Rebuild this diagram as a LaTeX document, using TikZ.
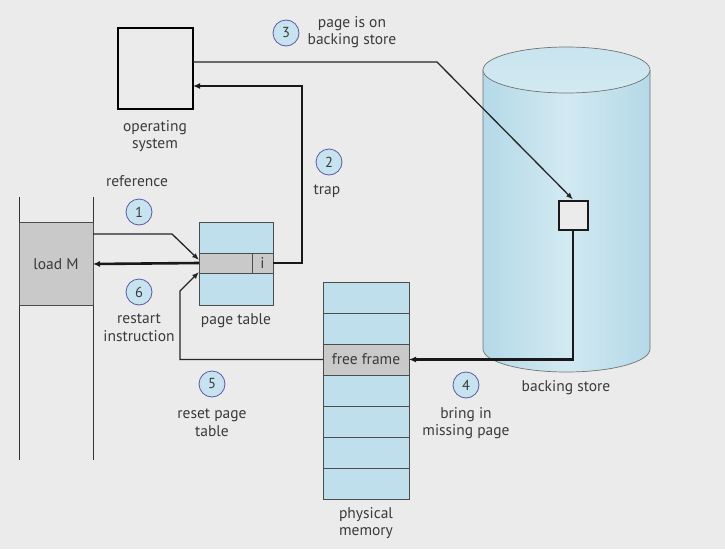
\documentclass[tikz,border=0pt]{standalone}
\usepackage{fontspec}
\setmainfont{PT Sans}
\usetikzlibrary{arrows.meta,shapes.geometric}
\definecolor{bg}{HTML}{EBEBEB}
\definecolor{cellblue}{HTML}{BEDFEB}
\definecolor{cellgray}{HTML}{C9C9C9}
\definecolor{cylside}{HTML}{B4D9E8}
\definecolor{cylmid}{HTML}{D2E9F1}
\definecolor{circfill}{HTML}{C6E3EF}
\definecolor{txt}{HTML}{3A3A3A}
\tikzset{
  lbl/.style={font=\fontsize{15.5}{17.5}\selectfont, text=txt, align=center, inner sep=0pt},
  stepnum/.style={circle, draw=gray!70!blue, fill=circfill, line width=0.8pt,
    minimum size=26pt, inner sep=0pt, font=\fontsize{14.5}{16}\selectfont, text=txt},
  cellbox/.style={draw=black!70, line width=0.8pt, fill=cellblue},
  thinarrow/.style={draw=black!85, line width=1.3pt, -{Latex[length=7pt,width=5.5pt]}},
  thickarrow/.style={draw=black!90, line width=2.6pt, -{Latex[length=7pt,width=6pt]}},
}
\begin{document}
\begin{tikzpicture}[x=1pt,y=-1pt]
\fill[bg] (0,0) rectangle (725,549);
\useasboundingbox (0,0) rectangle (725,549);

% operating system box
\draw[line width=2.8pt, fill=bg] (118,28) rectangle (193,109);
\coordinate (osE) at (193,86);
\coordinate (osL) at (193,62);
\node[lbl] (oslbl) at (155,136) {operating\\system};

% backing store cylinder
\shade[left color=cylside, right color=cylside, middle color=cylmid]
  (483,70) -- (483,349) arc[start angle=180,end angle=0,x radius=83.5,y radius=23]
  -- (650,70) -- cycle;
\draw[black!55, line width=0.7pt]
  (483,70) -- (483,349) arc[start angle=180,end angle=0,x radius=83.5,y radius=23]
  -- (650,70);
\shade[top color=cylmid!70!cylside, bottom color=cylmid] (566.5,70) ellipse[x radius=83.5,y radius=23];
\draw[black!55, line width=0.7pt] (566.5,70) ellipse[x radius=83.5,y radius=23];
\node[lbl] (bslbl) at (566,388) {backing store};

% page on backing store
\node[draw=black!90, line width=2pt, fill=bg, minimum width=29pt, minimum height=29pt,
  inner sep=0pt] (bpage) at (573,215) {};

% load M column
\draw[black!80, line width=1pt] (19,197) -- (19,460);
\draw[black!80, line width=1pt] (93,197) -- (93,460);
\draw[black!70, line width=0.8pt, fill=cellgray] (19,222) rectangle (93,305);
\node[lbl] (loadm) at (56,264) {load M};
\coordinate (loadE1) at (93,234);
\coordinate (loadE6) at (93,264);

% page table
\draw[cellbox] (199,222) rectangle (273,305);
\draw[black!70, line width=0.8pt, fill=cellgray] (199,253) rectangle (273,273);
\draw[black!70, line width=0.8pt] (252,253) -- (252,273);
\node[lbl] (ibit) at (262.5,263) {i};
\coordinate (ptW) at (199,263);
\coordinate (ptWa) at (199,260);
\coordinate (ptWb) at (199,272);
\coordinate (ptE) at (273,263);
\node[lbl] (ptlbl) at (236,321) {page table};

% physical memory
\foreach \i in {0,...,6} {
  \draw[cellbox] (323,{282+31*\i}) rectangle (409,{313+31*\i});
}
\draw[black!70, line width=0.8pt, fill=cellgray] (323,344) rectangle (409,375);
\node[lbl] (ff) at (366,359.5) {free frame};
\coordinate (ffW) at (323,359.5);
\coordinate (ffE) at (409,359.5);
\node[lbl] (pmlbl) at (366,523) {physical\\memory};

% step 1: reference
\draw[thinarrow] (loadE1) -- (172,234) -- (ptWa);
\node[stepnum] (s1) at (139,212) {1};
\node[lbl] (l1) at (137,181) {reference};

% step 2: trap
\draw[thickarrow] (ptE) -- (302,263) -- (302,86) -- (osE);
\node[stepnum] (s2) at (329,162) {2};
\node[lbl] (l2) at (327,191) {trap};

% step 3: page is on backing store
\draw[thinarrow] (osL) -- (437,62) -- (bpage.north);
\node[stepnum] (s3) at (286,33) {3};
\node[lbl] (l3) at (352,32) {page is on\\backing store};

% step 4: bring in missing page
\draw[thickarrow] (bpage.south) -- (573,359.5) -- (ffE);
\node[stepnum] (s4) at (466,385) {4};
\node[lbl] (l4) at (466,423) {bring in\\missing page};

% step 5: reset page table
\draw[thinarrow] (ffW) -- (180,359.5) -- (180,291) -- (ptWb);
\node[stepnum] (s5) at (212,384) {5};
\node[lbl] (l5) at (212,423) {reset page\\table};

% step 6: restart instruction
\draw[thickarrow] (ptW) -- (loadE6);
\node[stepnum] (s6) at (139,292) {6};
\node[lbl] (l6) at (139,328) {restart\\instruction};
\end{tikzpicture}
\end{document}
